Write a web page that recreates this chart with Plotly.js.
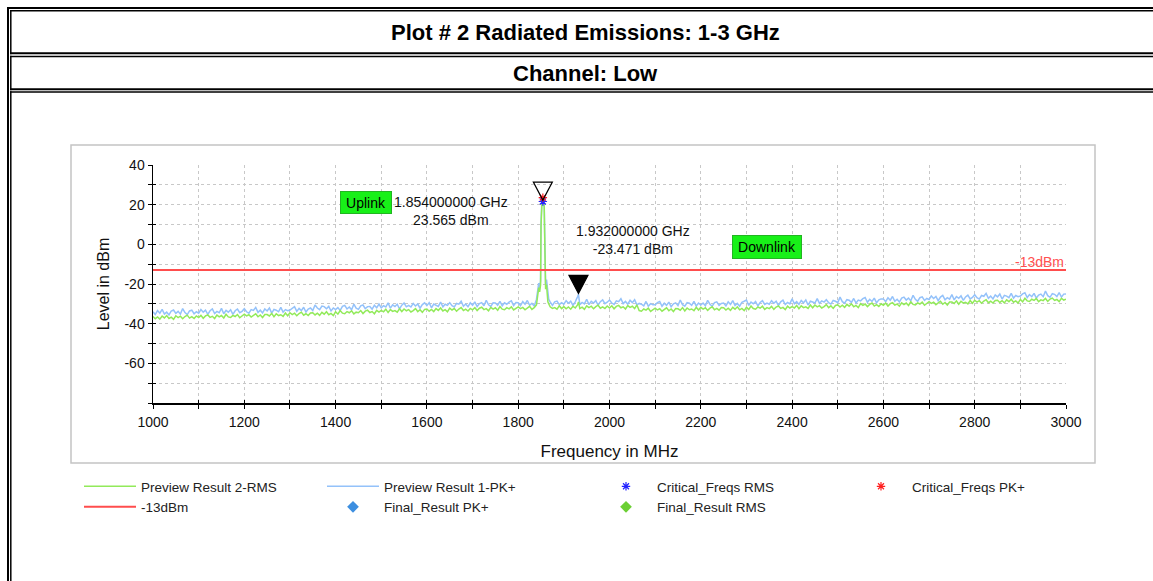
<!DOCTYPE html>
<html>
<head>
<meta charset="utf-8">
<script src="https://cdn.plot.ly/plotly-3.0.1.min.js"></script>
<style>
  html, body { margin: 0; padding: 0; background: #fff; overflow: hidden; }
  #chart { width: 1153px; height: 581px; }
</style>
</head>
<body>
<div id="chart"></div>
<script>
// Sweep grid of the receiver: 1000-3000 MHz in 5 MHz steps
const sweepStartMHz = 1000;
const sweepStepMHz = 5;

// Preview Result 1-PK+ (dBm), one row per 100 MHz
const pkSweep = [
  -34.0,-35.4,-33.4,-34.7,-32.8,-35.2,-34.2,-35.6,-33.6,-33.1,-34.8,-33.8,-35.2,-32.4,-34.4,-35.4,-33.6,-33.2,-35.0,-34.0,
  -34.7,-32.9,-34.2,-33.2,-35.3,-33.5,-32.6,-34.9,-33.8,-34.5,-32.3,-35.0,-33.3,-34.2,-33.0,-35.3,-33.5,-32.6,-34.5,-33.8,
  -32.5,-34.0,-34.7,-32.9,-33.3,-31.8,-34.3,-33.2,-34.6,-32.6,-33.6,-32.1,-34.7,-32.8,-33.2,-34.0,-31.8,-34.2,-32.9,-33.5,
  -33.1,-32.0,-31.4,-33.8,-32.3,-33.4,-31.7,-34.1,-32.6,-32.1,-33.4,-30.6,-32.1,-32.9,-31.1,-31.4,-32.5,-31.3,-33.6,-32.1,
  -32.9,-31.9,-33.3,-31.3,-30.8,-32.6,-31.6,-33.0,-30.2,-32.2,-32.8,-31.0,-30.6,-32.4,-31.4,-31.3,-32.7,-30.7,-32.0,-30.1,
  -32.0,-30.9,-31.6,-29.5,-32.2,-30.5,-31.4,-30.2,-32.5,-30.7,-29.6,-31.5,-30.8,-31.6,-29.8,-31.1,-30.1,-32.2,-30.4,-29.5,
  -30.9,-29.4,-32.0,-30.1,-30.5,-31.3,-29.1,-31.5,-30.2,-30.8,-29.4,-30.9,-31.6,-29.8,-30.2,-28.7,-31.2,-30.1,-31.5,-29.5,
  -30.7,-29.0,-31.4,-29.9,-29.4,-31.0,-28.2,-30.5,-31.3,-29.5,-29.6,-30.7,-28.7,-31.0,-29.5,-30.2,-29.1,-28.5,-30.9,-29.4,
  -29.5,-30.9,-28.9,-30.2,-28.3,-30.7,-29.7,-31.1,-27.8,-19.6, 11.0, 23.3,-20.4,-26.5,-29.0,-30.8,-29.0,-28.6,-30.4,-29.4,
  -30.2,-28.4,-29.7,-28.7,-30.8,-29.0,-26.4,-30.4,-29.3,-30.0,-27.7,-30.4,-28.7,-29.6,-28.4,-30.7,-28.9,-28.0,-29.9,-29.2,
  -28.1,-29.6,-30.3,-28.5,-28.9,-27.4,-29.9,-28.8,-30.2,-28.2,-29.4,-27.9,-30.5,-29.8,-30.2,-31.0,-28.8,-31.2,-29.9,-30.5,
  -30.5,-29.4,-28.8,-31.2,-29.7,-30.8,-29.1,-31.5,-30.0,-29.5,-30.9,-28.1,-30.4,-31.2,-29.4,-29.7,-30.8,-28.8,-31.1,-29.6,
  -30.6,-29.6,-31.0,-28.2,-30.2,-31.2,-29.4,-29.0,-30.8,-29.8,-29.6,-31.0,-29.0,-30.3,-28.4,-30.8,-29.8,-31.2,-29.2,-28.7,
  -28.1,-30.8,-29.1,-30.0,-28.8,-31.1,-29.3,-28.4,-30.3,-29.6,-30.2,-28.4,-29.7,-28.7,-30.8,-29.0,-28.1,-30.4,-29.3,-30.0,
  -27.5,-30.0,-28.9,-30.3,-28.3,-29.5,-28.0,-30.6,-28.7,-29.1,-29.6,-27.4,-29.8,-28.5,-29.1,-27.9,-29.4,-30.1,-28.3,-28.7,
  -29.4,-26.6,-28.9,-29.7,-27.9,-28.2,-29.3,-27.3,-29.6,-28.1,-28.5,-27.4,-26.8,-29.2,-27.7,-28.8,-27.1,-29.5,-28.0,-27.5,
  -27.5,-28.9,-26.9,-28.2,-26.3,-28.7,-27.7,-29.1,-27.1,-26.6,-28.1,-27.1,-28.5,-25.7,-27.7,-28.7,-26.9,-26.5,-28.3,-27.3,
  -27.8,-26.0,-27.3,-26.3,-28.4,-26.6,-25.7,-28.0,-26.9,-27.6,-25.3,-28.0,-26.3,-27.2,-26.0,-28.3,-26.5,-25.6,-27.5,-26.8,
  -25.4,-26.9,-27.6,-25.8,-26.2,-24.7,-27.2,-26.1,-27.5,-25.5,-26.5,-25.0,-27.6,-25.7,-26.1,-26.9,-24.7,-27.1,-25.8,-26.4,
  -26.1,-25.0,-24.4,-26.8,-25.3,-26.4,-24.7,-27.1,-25.6,-25.1,-26.4,-23.6,-25.9,-26.7,-24.9,-25.2,-26.3,-24.3,-26.6,-25.1,
  -25.0
];

// Preview Result 2-RMS (dBm), one row per 100 MHz
const rmsSweep = [
  -36.4,-37.5,-36.6,-37.7,-36.2,-37.1,-35.9,-37.4,-36.7,-37.8,-36.0,-36.9,-36.2,-37.5,-36.4,-35.7,-37.2,-36.5,-37.4,-36.1,
  -36.9,-35.8,-37.3,-36.1,-35.6,-36.8,-36.3,-37.4,-35.7,-36.6,-35.9,-37.1,-35.3,-36.6,-36.9,-35.8,-36.4,-35.4,-37.0,-36.1,
  -35.2,-36.1,-35.5,-36.7,-36.0,-35.0,-36.5,-35.6,-36.9,-35.4,-35.4,-36.1,-34.8,-36.5,-35.0,-35.9,-35.5,-36.3,-34.6,-36.0,
  -34.5,-35.4,-34.7,-36.0,-34.9,-34.2,-35.7,-35.0,-35.9,-34.6,-34.5,-35.6,-34.7,-35.8,-34.3,-35.2,-34.0,-35.5,-34.8,-35.9,
  -34.0,-35.2,-33.4,-34.7,-35.0,-33.9,-34.5,-33.5,-35.1,-34.2,-34.5,-33.4,-34.9,-33.7,-33.2,-34.4,-33.9,-35.0,-33.3,-34.2,
  -33.3,-34.0,-32.7,-34.4,-32.9,-33.8,-33.4,-34.2,-32.5,-33.9,-32.6,-33.5,-32.9,-34.1,-33.4,-32.4,-33.9,-33.0,-34.3,-32.8,
  -32.6,-33.7,-32.8,-33.9,-32.4,-33.3,-32.1,-33.6,-32.9,-34.0,-32.2,-33.1,-32.4,-33.7,-32.6,-31.9,-33.4,-32.7,-33.6,-32.3,
  -33.0,-31.9,-33.4,-32.2,-31.7,-32.9,-32.4,-33.5,-31.8,-32.7,-32.0,-33.2,-31.4,-32.7,-33.0,-31.9,-32.5,-31.5,-33.1,-32.2,
  -31.5,-32.4,-31.8,-33.0,-32.3,-31.3,-32.8,-31.9,-30.5,-21.8,  9.0, 21.4,-22.6,-29.0,-31.5,-32.3,-31.9,-32.7,-31.0,-32.4,
  -31.4,-32.5,-31.6,-32.7,-31.2,-32.1,-30.6,-32.4,-31.7,-32.8,-31.0,-31.9,-31.2,-32.5,-31.4,-30.7,-32.2,-31.5,-32.4,-31.1,
  -32.1,-31.0,-32.5,-31.3,-30.8,-32.0,-31.5,-32.6,-30.9,-31.8,-31.2,-32.4,-30.6,-33.4,-33.7,-32.6,-33.2,-32.2,-33.8,-32.9,
  -32.2,-33.1,-32.5,-33.7,-33.0,-32.0,-33.5,-32.6,-33.9,-32.4,-32.5,-33.2,-31.9,-33.6,-32.1,-33.0,-32.6,-33.4,-31.7,-33.1,
  -31.8,-32.7,-32.0,-33.3,-32.2,-31.5,-33.0,-32.3,-33.2,-31.9,-32.0,-33.1,-32.2,-33.3,-31.8,-32.7,-31.5,-33.0,-32.3,-33.4,
  -31.7,-32.9,-31.1,-32.4,-32.7,-31.6,-32.2,-31.2,-32.8,-31.9,-32.4,-31.3,-32.8,-31.6,-31.1,-32.3,-31.8,-32.9,-31.2,-32.1,
  -31.4,-32.1,-30.8,-32.5,-31.0,-31.9,-31.5,-32.3,-30.6,-32.0,-30.6,-31.5,-30.9,-32.1,-31.4,-30.4,-31.9,-31.0,-32.3,-30.8,
  -30.5,-31.6,-30.7,-31.8,-30.3,-31.2,-30.0,-31.5,-30.8,-31.9,-29.9,-30.8,-30.1,-31.4,-30.3,-29.6,-31.1,-30.4,-31.3,-30.0,
  -30.7,-29.6,-31.1,-29.9,-29.4,-30.6,-30.1,-31.2,-29.5,-30.4,-29.6,-30.8,-29.0,-30.3,-30.6,-29.5,-30.1,-29.1,-30.7,-29.8,
  -28.9,-29.8,-29.2,-30.4,-29.7,-28.7,-30.2,-29.3,-30.6,-29.1,-29.1,-29.8,-28.5,-30.2,-28.7,-29.6,-29.2,-30.0,-28.3,-29.7,
  -28.2,-29.1,-28.4,-29.7,-28.6,-27.9,-29.4,-28.7,-29.6,-28.3,-28.2,-29.3,-28.4,-29.5,-28.0,-28.9,-27.7,-29.2,-28.5,-29.6,
  -27.8,-29.0,-27.2,-28.5,-28.8,-27.7,-28.3,-27.3,-28.9,-28.0,-28.4,-27.3,-28.8,-27.6,-27.1,-28.3,-27.8,-28.9,-27.2,-28.1,
  -27.7
];

// Extra sweep points around the uplink carrier and the 1932 MHz spur
const detailFreqs = [1843, 1847, 1849, 1851, 1852, 1853, 1854, 1856, 1857, 1858, 1859, 1862, 1867, 1932];
const detailPk    = [-23.5, -22.0, -18.5, 21.0, 22.8, 23.3, 23.565, 22.9, 20.5, 6.0, -18.8, -17.8, -27.8, -25.2];
const detailRms   = [-25.5, -24.0, -20.5, 19.3, 21.0, 21.5, 21.6, 21.1, 18.8, 4.0, -21.0, -20.3, -30.0, -29.0];

// Marker readouts (MHz, dBm)
const markerFreqs  = [1854, 1932];
const markerLevels = [23.565, -23.471];

// Critical frequencies
const criticalFreqs = [1854];
const criticalPk    = [23.565];
const criticalRms   = [21.6];

// -13 dBm limit line
const limitFreqs  = [1000, 3000];
const limitLevels = [-13, -13];

// Band labels
const bandNames  = ['Uplink', 'Downlink'];
const bandFreqs  = [1466, 2344];
const bandLevels = [21, -1.4];

// Tick labels
const xTickVals = [1000, 1200, 1400, 1600, 1800, 2000, 2200, 2400, 2600, 2800, 3000];
const xTickText = ['1000', '1200', '1400', '1600', '1800', '2000', '2200', '2400', '2600', '2800', '3000'];
const yTickVals = [-60, -40, -20, 0, 20, 40];
const yTickText = ['-60', '-40', '-20', '0', '20', '40'];

function mergeSweep(sweep, extraF, extraL) {
  const pts = sweep.map((v, i) => [sweepStartMHz + i * sweepStepMHz, v]);
  extraF.forEach((f, i) => pts.push([f, extraL[i]]));
  pts.sort((a, b) => a[0] - b[0]);
  return { x: pts.map(p => p[0]), y: pts.map(p => p[1]) };
}

const pk = mergeSweep(pkSweep, detailFreqs, detailPk);
const rms = mergeSweep(rmsSweep, detailFreqs, detailRms);

// Page geometry (px) and helpers to place frame items in paper coordinates
const W = 1153, H = 581, ML = 153, MR = 87, MT = 165, MB = 178;
const PW = W - ML - MR, PH = H - MT - MB;
const px = x => (x - ML) / PW;
const py = y => (H - MB - y) / PH;

const FONT = 'Liberation Sans, Arial, Helvetica, sans-serif';

function hline(y, x0, x1, w) {
  return { type: 'line', xref: 'paper', yref: 'paper', x0: px(x0), x1: px(x1), y0: py(y), y1: py(y),
           line: { color: '#000', width: w }, layer: 'above' };
}
function vline(x, y0, y1, w) {
  return { type: 'line', xref: 'paper', yref: 'paper', x0: px(x), x1: px(x), y0: py(y0), y1: py(y1),
           line: { color: '#000', width: w }, layer: 'above' };
}

const shapes = [
  // double-ruled page frame
  vline(8, 7, 585, 2),
  hline(8, 7, 1160, 2),
  hline(10.8, 10, 1160, 1.5),
  vline(10.8, 10, 54.3, 1.5),
  hline(53.3, 10, 1160, 2),
  hline(56.5, 10, 1160, 1.5),
  vline(10.8, 55.7, 90.3, 1.5),
  hline(89.3, 10, 1160, 2),
  hline(92, 10, 1160, 1.5),
  vline(10.8, 91.3, 585, 1.5),
  // chart box
  { type: 'rect', xref: 'paper', yref: 'paper', x0: px(71), x1: px(1095), y0: py(145), y1: py(463),
    line: { color: '#c4c4c4', width: 1.5 }, layer: 'below' }
];

// marker triangles, tip at the marker level
markerFreqs.forEach((f, i) => {
  shapes.push({
    type: 'path', xref: 'x', yref: 'y', xsizemode: 'pixel', ysizemode: 'pixel',
    xanchor: f, yanchor: markerLevels[i],
    path: 'M-9.5,15.5 L9.5,15.5 L0,-2.5 Z',
    line: { color: '#000', width: 1.2 },
    fillcolor: i === 0 ? 'rgba(0,0,0,0)' : '#000',
    layer: 'above'
  });
});

const annotations = [
  { xref: 'paper', yref: 'paper', x: px(585), y: py(32), text: '<b>Plot # 2 Radiated Emissions: 1-3 GHz</b>',
    showarrow: false, xanchor: 'center', yanchor: 'middle', font: { family: FONT, size: 22, color: '#000' } },
  { xref: 'paper', yref: 'paper', x: px(585), y: py(73), text: '<b>Channel: Low</b>',
    showarrow: false, xanchor: 'center', yanchor: 'middle', font: { family: FONT, size: 22, color: '#000' } },
  { x: 3000, y: -13, xref: 'x', yref: 'y', text: '-13dBm', showarrow: false, xanchor: 'right', yanchor: 'middle',
    yshift: 8, font: { family: FONT, size: 14, color: '#ff5050' } }
];

const readoutShift = [[-91.4, -13.2], [54.5, 51]];
markerFreqs.forEach((f, i) => {
  annotations.push({
    x: f, y: markerLevels[i], xref: 'x', yref: 'y', showarrow: false,
    text: (f / 1000).toFixed(9) + ' GHz<br>' + markerLevels[i].toFixed(3) + ' dBm',
    xanchor: 'center', yanchor: 'middle', align: 'center',
    xshift: readoutShift[i][0], yshift: readoutShift[i][1],
    font: { family: FONT, size: 14, color: '#111' }
  });
});

const bandBox = [[48, 19], [66, 20]];
bandNames.forEach((name, i) => {
  annotations.push({
    x: bandFreqs[i], y: bandLevels[i], xref: 'x', yref: 'y', showarrow: false, text: name,
    xanchor: 'center', yanchor: 'middle', bgcolor: '#18f018', bordercolor: '#22b522', borderwidth: 1,
    borderpad: 1, width: bandBox[i][0], height: bandBox[i][1],
    font: { family: FONT, size: 14, color: '#000' }
  });
});

const traces = [
  { name: 'Preview Result 1-PK+', x: pk.x, y: pk.y, type: 'scatter', mode: 'lines',
    line: { color: '#94c2fa', width: 1.5 }, legend: 'legend2', hoverinfo: 'skip' },
  { name: 'Preview Result 2-RMS', x: rms.x, y: rms.y, type: 'scatter', mode: 'lines',
    line: { color: '#92ea5a', width: 1.5 }, legend: 'legend', hoverinfo: 'skip' },
  { name: '-13dBm', x: limitFreqs, y: limitLevels, type: 'scatter', mode: 'lines',
    line: { color: '#ff4d4d', width: 2 }, legend: 'legend', hoverinfo: 'skip' },
  { name: 'Critical_Freqs RMS', x: criticalFreqs, y: criticalRms, type: 'scatter', mode: 'markers',
    marker: { symbol: 'asterisk-open', size: 7, color: '#2323ff', line: { color: '#2323ff', width: 1.2 } },
    legend: 'legend3', hoverinfo: 'skip' },
  { name: 'Critical_Freqs PK+', x: criticalFreqs, y: criticalPk, type: 'scatter', mode: 'markers',
    marker: { symbol: 'asterisk-open', size: 7, color: '#ff2020', line: { color: '#ff2020', width: 1.2 } },
    legend: 'legend4', hoverinfo: 'skip' },
  { name: 'Final_Result PK+', x: [null], y: [null], type: 'scatter', mode: 'markers',
    marker: { symbol: 'diamond', size: 9, color: '#3d8fe0' }, legend: 'legend2', hoverinfo: 'skip' },
  { name: 'Final_Result RMS', x: [null], y: [null], type: 'scatter', mode: 'markers',
    marker: { symbol: 'diamond', size: 9, color: '#6bcf33' }, legend: 'legend3', hoverinfo: 'skip' },
  // carrier for the inner tick marks that cross the axis lines
  { x: [null], y: [null], xaxis: 'x2', yaxis: 'y2', type: 'scatter', mode: 'markers',
    showlegend: false, hoverinfo: 'skip' }
];

const legendBase = {
  orientation: 'v', xanchor: 'left', yanchor: 'top', bgcolor: 'rgba(0,0,0,0)', borderwidth: 0,
  font: { family: FONT, size: 13.5, color: '#222' }, itemwidth: 52, traceorder: 'normal',
  itemclick: false, itemdoubleclick: false
};

const gridStyle = { showgrid: true, gridcolor: '#c8c8c8', griddash: 'dot', gridwidth: 1 };

const layout = {
  width: W, height: H,
  margin: { l: ML, r: MR, t: MT, b: MB, autoexpand: false },
  paper_bgcolor: '#fff', plot_bgcolor: '#fff',
  font: { family: FONT, color: '#111' },
  showlegend: true,
  legend:  Object.assign({}, legendBase, { x: px(79),  y: py(471) }),
  legend2: Object.assign({}, legendBase, { x: px(322), y: py(471) }),
  legend3: Object.assign({}, legendBase, { x: px(595), y: py(471) }),
  legend4: Object.assign({}, legendBase, { x: px(850), y: py(471) }),
  xaxis: Object.assign({
    range: [1000, 3000], tickmode: 'array', tickvals: xTickVals, ticktext: xTickText,
    ticks: 'outside', ticklen: 4, tickwidth: 1, tickcolor: '#000',
    showline: true, linecolor: '#000', linewidth: 1.5, zeroline: false,
    minor: Object.assign({ tickmode: 'linear', tick0: 1000, dtick: 100, ticks: 'outside', ticklen: 4, tickcolor: '#000' }, gridStyle),
    tickfont: { family: FONT, size: 14, color: '#111' }, ticklabelstandoff: 2,
    title: { text: 'Frequency in MHz', font: { family: FONT, size: 17, color: '#111' }, standoff: 16 },
    fixedrange: true
  }, gridStyle),
  yaxis: Object.assign({
    range: [-80, 40], tickmode: 'array', tickvals: yTickVals, ticktext: yTickText,
    ticks: 'outside', ticklen: 4, tickwidth: 1, tickcolor: '#000',
    showline: true, linecolor: '#000', linewidth: 1.5, zeroline: false,
    minor: Object.assign({ tickmode: 'linear', tick0: 0, dtick: 10, ticks: 'outside', ticklen: 4, tickcolor: '#000' }, gridStyle),
    tickfont: { family: FONT, size: 14, color: '#111' },
    title: { text: 'Level in dBm', font: { family: FONT, size: 16, color: '#111' }, standoff: 11 },
    fixedrange: true
  }, gridStyle),
  xaxis2: {
    overlaying: 'x', anchor: 'y2', side: 'bottom', range: [1000, 3000], tickmode: 'linear', tick0: 1000, dtick: 100,
    ticks: 'inside', ticklen: 3, tickcolor: '#000', showticklabels: false, showgrid: false,
    showline: false, zeroline: false, fixedrange: true
  },
  yaxis2: {
    overlaying: 'y', anchor: 'x2', side: 'left', range: [-80, 40], tickmode: 'linear', tick0: 0, dtick: 10,
    ticks: 'inside', ticklen: 3, tickcolor: '#000', showticklabels: false, showgrid: false,
    showline: false, zeroline: false, fixedrange: true
  },
  shapes: shapes,
  annotations: annotations
};

Plotly.newPlot('chart', traces, layout, { displayModeBar: false, staticPlot: true });
</script>
</body>
</html>
